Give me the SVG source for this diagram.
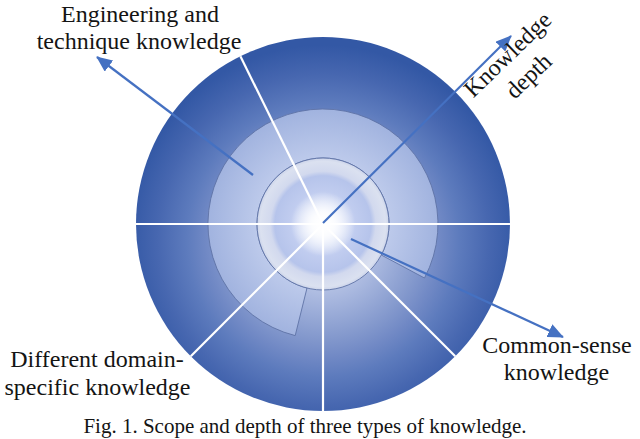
<svg xmlns="http://www.w3.org/2000/svg" width="640" height="439" viewBox="0 0 640 439">
<style>
text{font-family:"Liberation Serif","Times New Roman",serif;font-size:24px;fill:#141414;text-anchor:middle}
.cap{font-size:21px}
.ray{stroke:#ffffff;stroke-width:2.2;fill:none}
.arr{stroke:#4571c2;stroke-width:2.2;fill:none;marker-end:url(#ah)}
.edge{stroke:#5f73a6;stroke-width:0.9}
</style>
<defs>
<radialGradient id="gOuter" gradientUnits="userSpaceOnUse" cx="323" cy="240" r="195">
<stop offset="0" stop-color="#dfe6f6"/>
<stop offset="0.3" stop-color="#a9b8df"/>
<stop offset="0.5" stop-color="#8499cd"/>
<stop offset="0.6" stop-color="#7189c5"/>
<stop offset="0.7" stop-color="#5d7bbd"/>
<stop offset="0.85" stop-color="#4767b0"/>
<stop offset="1" stop-color="#3358a5"/>
</radialGradient>
<radialGradient id="gMid" gradientUnits="userSpaceOnUse" cx="323" cy="224" r="115">
<stop offset="0.57" stop-color="#bdcaeb"/>
<stop offset="1" stop-color="#a1b3df"/>
</radialGradient>
<radialGradient id="gIn" gradientUnits="userSpaceOnUse" cx="323" cy="224" r="66">
<stop offset="0" stop-color="#ffffff"/>
<stop offset="0.2" stop-color="#e9eefb"/>
<stop offset="0.5" stop-color="#c0ccef"/>
<stop offset="0.73" stop-color="#b6c4eb"/>
<stop offset="0.8" stop-color="#d2d9ee"/>
<stop offset="0.95" stop-color="#dbe1f0"/>
<stop offset="1" stop-color="#ccd4ea"/>
</radialGradient>
<radialGradient id="gGlow" gradientUnits="userSpaceOnUse" cx="323" cy="224" r="32">
<stop offset="0" stop-color="#ffffff" stop-opacity="1"/>
<stop offset="0.35" stop-color="#ffffff" stop-opacity="0.8"/>
<stop offset="1" stop-color="#ffffff" stop-opacity="0"/>
</radialGradient>
<marker id="ah" markerUnits="userSpaceOnUse" markerWidth="16" markerHeight="14" refX="15" refY="7" orient="auto">
<path d="M0,0 L16,7 L0,14 Z" fill="#4571c2"/>
</marker>
</defs>

<g id="scope-disc">
<circle cx="323" cy="224" r="187" fill="url(#gOuter)"/>
<path class="edge" fill="url(#gMid)" d="M424.5,278 A115,115 0 1 0 295.2,335.6 L307,288 A66,66 0 1 1 381.3,255 Z"/>
<circle class="edge" cx="323" cy="224" r="66" fill="url(#gIn)"/>
</g>

<g id="rays">
<line class="ray" x1="136" y1="224" x2="510" y2="224"/>
<line class="ray" x1="323" y1="224" x2="240.4" y2="56.2"/>
<line class="ray" x1="323" y1="224" x2="190.8" y2="356.2"/>
<line class="ray" x1="323" y1="224" x2="323" y2="411"/>
<line class="ray" x1="323" y1="224" x2="455.2" y2="356.2"/>
<circle cx="323" cy="224" r="32" fill="url(#gGlow)"/>
</g>

<g id="connectors">
<line class="arr" x1="253" y1="175" x2="97" y2="57"/>
<line class="arr" x1="323" y1="223" x2="511" y2="36"/>
<line class="arr" x1="351" y1="239" x2="563" y2="337"/>
</g>

<g id="engineering-label">
<text x="140" y="22">Engineering and</text>
<text x="139" y="49">technique knowledge</text>
</g>
<g id="depth-label" transform="translate(513,60) rotate(-44)">
<text x="0" y="0">Knowledge</text>
<text x="0" y="30">depth</text>
</g>
<g id="domain-label">
<text x="97" y="367">Different domain-</text>
<text x="97.5" y="395">specific knowledge</text>
</g>
<g id="commonsense-label">
<text x="557" y="353">Common-sense</text>
<text x="556.5" y="380">knowledge</text>
</g>
<g id="caption">
<text class="cap" x="305" y="433">Fig. 1. Scope and depth of three types of knowledge.</text>
</g>
</svg>
